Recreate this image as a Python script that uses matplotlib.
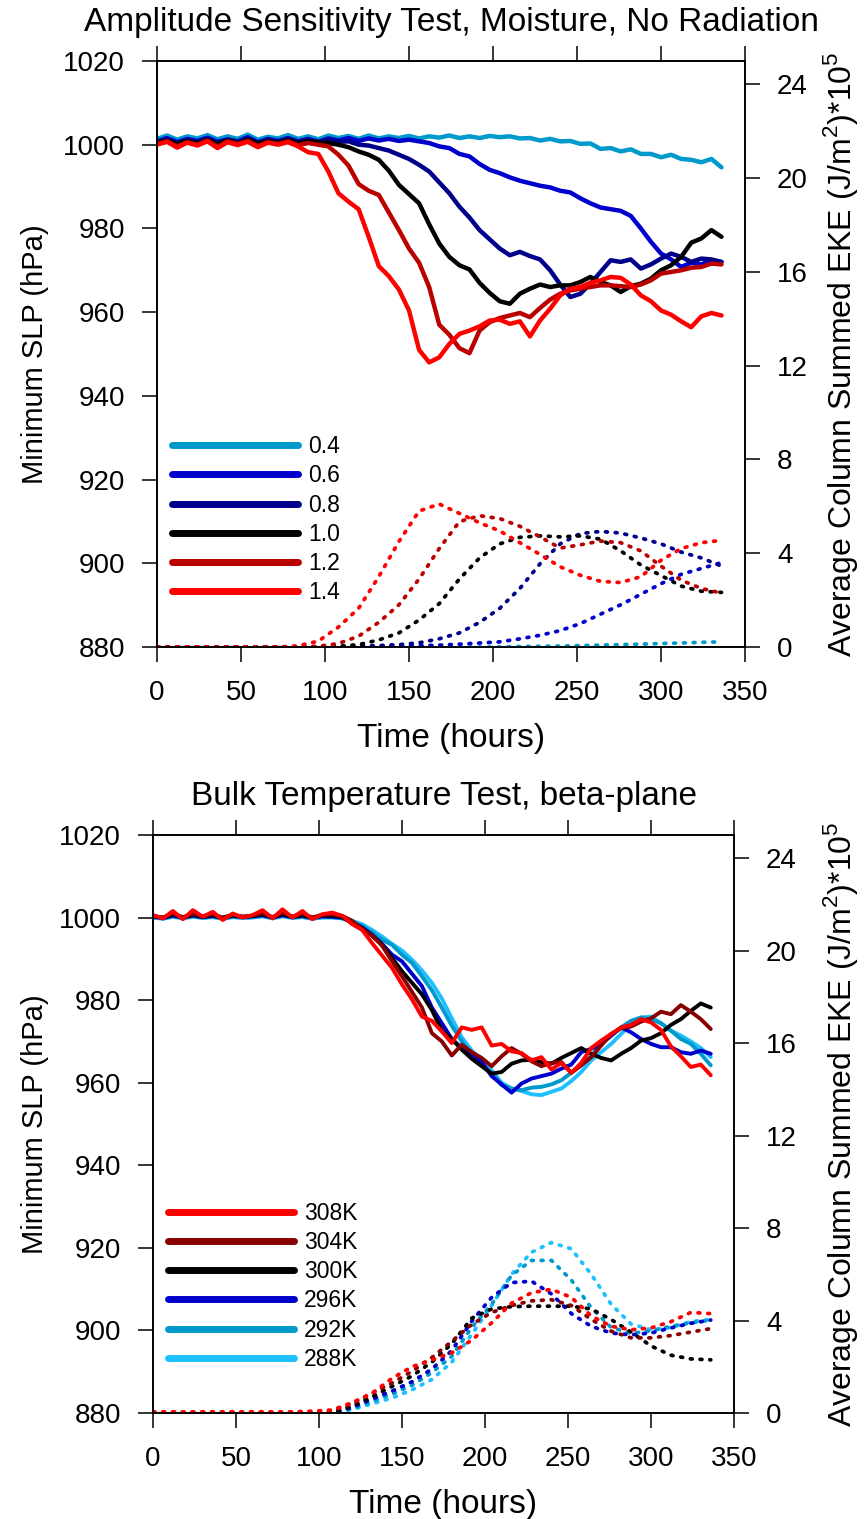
import numpy as np
import matplotlib
matplotlib.use("Agg")
import matplotlib.pyplot as plt
from matplotlib.lines import Line2D

plt.rcParams['font.family'] = ['Liberation Sans', 'DejaVu Sans']
plt.rcParams['mathtext.fontset'] = 'custom'
plt.rcParams['mathtext.rm'] = 'Liberation Sans'

# time axes: SLP every 6 h, EKE every 12 h
hours_slp = np.arange(0, 337, 6)
hours_eke = np.arange(0, 337, 12)

# ---- top panel: amplitude sensitivity ----
amp_labels = ['0.4', '0.6', '0.8', '1.0', '1.2', '1.4']
amp_colors = ['#0099cc', '#0000cc', '#00008b', '#000000', '#bb0000', '#ff0000']

slp_04 = [1001.4, 1002.2, 1001.2, 1002.0, 1001.5, 1002.3, 1001.3, 1002.0, 1001.4, 1002.4,
          1001.2, 1001.9, 1001.5, 1002.3, 1001.4, 1002.0, 1001.3, 1002.2, 1001.6, 1002.1,
          1001.4, 1002.2, 1001.5, 1002.0, 1001.6, 1002.1, 1001.5, 1002.0, 1001.7, 1002.2,
          1001.6, 1002.0, 1001.6, 1002.1, 1001.8, 1002.0, 1001.5, 1001.6, 1001.0, 1001.4,
          1000.8, 1000.9, 1000.2, 1000.3, 999.0, 999.2, 998.4, 998.9, 997.8, 997.8,
          997.0, 997.6, 996.6, 996.4, 995.8, 996.6, 994.6]
slp_06 = [1000.8, 1001.6, 1000.6, 1001.4, 1000.9, 1001.7, 1000.7, 1001.3, 1000.8, 1001.8,
          1000.6, 1001.4, 1000.9, 1001.6, 1000.8, 1001.4, 1000.7, 1001.5, 1001.0, 1001.6,
          1000.9, 1001.5, 1001.0, 1001.4, 1000.9, 1001.2, 1000.8,
          1000.4, 999.6, 999.2, 997.8, 997.2, 995.4, 994.0, 993.2, 992.2, 991.4,
          990.8, 990.2, 989.8, 989.0, 988.6, 987.2, 986.0, 985.0, 984.6, 984.2,
          983.0, 980.0, 976.8, 974.0, 972.6, 970.8, 971.8, 971.4, 972.4, 972.0]
slp_08 = [1000.6, 1001.2, 1000.4, 1001.0, 1000.5, 1001.3, 1000.3, 1001.1, 1000.6, 1001.4,
          1000.5, 1001.0, 1000.7, 1001.3, 1000.5, 1001.1, 1000.6, 1001.2, 1000.7, 1000.8,
          1000.0, 999.8, 999.2, 998.6, 997.6, 996.6, 995.2, 993.6, 991.0, 988.4,
          985.2, 982.6, 979.6, 977.4, 975.2, 973.6, 974.4, 973.4, 972.6, 970.0,
          966.6, 963.6, 964.4, 966.8, 969.6, 972.4, 972.0, 972.6, 970.4, 971.4,
          972.8, 974.0, 973.2, 972.0, 972.8, 972.6, 972.0]
slp_10 = [1000.5, 1001.0, 1000.2, 1000.9, 1000.4, 1001.2, 1000.2, 1001.0, 1000.4, 1001.2,
          1000.3, 1000.9, 1000.5, 1001.1, 1000.4, 1000.9, 1000.6,
          1000.4, 1000.0, 999.4, 998.4, 997.6, 996.4, 993.8, 990.4, 988.2, 986.0,
          981.0, 976.4, 973.2, 971.2, 970.2, 967.0, 964.6, 962.6, 962.0, 964.4,
          965.6, 966.6, 966.0, 966.4, 966.4, 967.2, 968.4, 967.2, 966.4, 964.8,
          966.2, 966.8, 968.0, 970.0, 971.2, 973.2, 976.6, 977.6, 979.6, 978.0]
slp_12 = [1000.2, 1000.8, 999.6, 1000.6, 1000.0, 1001.0, 999.5, 1000.8, 1000.2, 1000.9,
          999.7, 1000.6, 1000.2, 1000.8, 999.9, 1000.4,
          1000.0, 999.6, 997.6, 995.0, 990.6, 989.0, 988.0, 983.8, 979.6, 975.2,
          971.8, 966.0, 957.0, 954.6, 951.4, 950.2, 955.6, 957.6, 958.6, 959.2,
          959.8, 958.8, 961.0, 963.0, 964.4, 965.2, 965.6, 966.0, 966.4, 966.4,
          966.2, 966.0, 966.6, 967.6, 969.2, 969.6, 970.0, 970.6, 970.8, 971.6, 971.4]
slp_14 = [1000.0, 1000.7, 999.3, 1000.5, 999.8, 1000.8, 999.2, 1000.6, 999.9, 1000.7,
          999.4, 1000.5, 1000.0, 1000.6,
          999.6, 998.2, 997.8, 993.6, 988.4, 986.4, 984.6, 978.0, 971.0, 968.6,
          965.4, 960.4, 951.0, 948.0, 949.2, 952.4, 954.8, 955.6, 956.6, 958.0,
          958.2, 957.2, 957.8, 954.2, 958.0, 960.8, 964.0, 965.6, 966.0, 967.0,
          967.6, 968.4, 968.2, 966.6, 964.0, 962.6, 960.4, 959.4, 957.8, 956.4,
          959.0, 959.8, 959.2]

eke_04 = [0, 0, 0, 0, 0, 0, 0, 0, 0, 0, 0, 0, 0, 0, 0, 0, 0,
          0.0, 0.02, 0.03, 0.04, 0.06, 0.08, 0.1, 0.12, 0.15, 0.17, 0.2, 0.22]
eke_06 = [0, 0, 0, 0, 0, 0, 0, 0, 0, 0, 0, 0,
          0.03, 0.05, 0.08, 0.12, 0.17, 0.22, 0.35, 0.5, 0.7, 1.0, 1.4, 1.8,
          2.25, 2.7, 3.1, 3.35, 3.6]
eke_08 = [0, 0, 0, 0, 0, 0, 0, 0, 0, 0,
          0.03, 0.06, 0.1, 0.18, 0.35, 0.6, 1.05, 1.65, 2.5, 3.55, 4.4, 4.84,
          4.93, 4.86, 4.65, 4.4, 4.05, 3.8, 3.45]
eke_10 = [0, 0, 0, 0, 0, 0, 0, 0, 0,
          0.03, 0.1, 0.3, 0.6, 1.15, 1.85, 2.9, 3.8, 4.4, 4.68, 4.74, 4.7,
          4.74, 4.6, 4.1, 3.5, 3.05, 2.6, 2.38, 2.33]
eke_12 = [0, 0, 0, 0, 0, 0, 0, 0,
          0.03, 0.15, 0.46, 1.05, 1.8, 2.9, 4.2, 5.35, 5.6, 5.48, 5.15, 4.7,
          4.22, 4.36, 4.52, 4.45, 4.1, 3.45, 2.85, 2.5, 2.3]
eke_14 = [0, 0, 0, 0, 0, 0, 0,
          0.05, 0.25, 0.85, 1.65, 3.0, 4.5, 5.8, 6.1, 5.7, 5.3, 4.95, 4.45, 3.95,
          3.42, 3.06, 2.8, 2.75, 3.0, 3.7, 4.2, 4.45, 4.55]

# ---- bottom panel: bulk temperature ----
temp_labels = ['308K', '304K', '300K', '296K', '292K', '288K']
temp_colors = ['#ff0000', '#880000', '#000000', '#0000cc', '#0099cc', '#1ec0ff']

slp_308 = [1000.6, 999.8, 1001.6, 999.6, 1001.8, 1000.2, 1001.4, 999.4, 1001.0, 1000.0,
           1000.6, 1001.8, 999.8, 1002.0, 1000.0, 1001.6, 999.6, 1000.8, 1001.2,
           1000.4, 998.4, 997.0, 993.8, 990.8, 987.8, 983.8, 980.2, 976.0, 975.0,
           972.4, 969.6, 973.4, 972.8, 973.4, 969.0, 969.4, 967.6, 967.2, 965.4,
           966.2, 963.2, 964.8, 962.4, 964.8, 968.4, 970.2, 971.8, 973.4, 974.0,
           975.4, 974.6, 972.8, 968.8, 966.4, 963.8, 964.4, 961.8]
slp_304 = [1000.4, 1000.0, 1001.0, 1000.0, 1001.0, 1000.3, 1000.9, 999.9, 1000.7, 1000.2,
           1000.5, 1001.1, 1000.1, 1001.2, 1000.2, 1001.0, 1000.0, 1000.7, 1000.8,
           1000.4, 999.2, 997.2, 995.6, 993.2, 989.4, 985.8, 982.0, 978.2, 972.0,
           970.0, 966.6, 969.2, 967.4, 966.0, 964.0, 966.4, 968.4, 967.0, 965.2,
           964.0, 964.8, 965.0, 962.4, 964.2, 966.2, 969.0, 971.8, 973.2, 973.6,
           974.8, 975.6, 977.2, 976.6, 978.8, 977.2, 975.4, 973.0]
slp_300 = [1000.3, 1000.0, 1000.8, 1000.1, 1000.7, 1000.2, 1000.6, 1000.0, 1000.6, 1000.2,
           1000.4, 1000.8, 1000.1, 1000.8, 1000.2, 1000.6, 1000.0, 1000.5, 1000.4,
           1000.2, 998.6, 997.4, 995.6, 993.4, 990.2, 987.0, 984.2, 981.4, 977.6,
           972.6, 970.6, 968.0, 965.8, 964.0, 962.2, 962.6, 964.6, 965.4, 965.6,
           965.0, 964.6, 966.0, 967.2, 968.4, 967.0, 966.0, 965.4, 967.0, 968.4,
           970.2, 970.8, 972.0, 974.0, 975.4, 977.4, 979.2, 978.2]
slp_296 = [1000.2, 999.9, 1000.5, 1000.0, 1000.5, 1000.1, 1000.4, 999.9, 1000.4, 1000.1,
           1000.3, 1000.6, 1000.0, 1000.6, 1000.1, 1000.4, 999.9, 1000.3, 1000.2,
           1000.0, 998.8, 997.6, 995.8, 993.6, 991.0, 989.4, 986.4, 983.4, 978.2,
           974.4, 970.6, 968.4, 967.0, 965.0, 961.6, 959.6, 957.6, 959.8, 961.0,
           961.6, 962.2, 963.4, 964.4, 967.4, 968.2, 969.4, 971.4, 973.4, 972.2,
           970.6, 969.4, 968.6, 968.6, 967.4, 967.0, 967.8, 967.0]
slp_292 = [1000.1, 999.8, 1000.3, 999.9, 1000.3, 1000.0, 1000.2, 999.8, 1000.2, 1000.0,
           1000.1, 1000.4, 999.9, 1000.4, 1000.0, 1000.2, 999.8, 1000.1, 1000.1,
           999.8, 999.0, 998.0, 996.4, 994.6, 993.4, 991.0, 989.0, 985.8, 982.4,
           978.2, 973.8, 970.0, 967.0, 964.4, 962.4, 959.4, 958.6, 958.2, 958.8,
           959.0, 959.6, 960.6, 962.4, 964.4, 966.4, 969.4, 971.4, 973.4, 975.0,
           975.8, 975.4, 974.4, 972.6, 970.6, 969.4, 967.0, 964.2]
slp_288 = [1000.0, 999.7, 1000.2, 999.8, 1000.2, 999.9, 1000.1, 999.7, 1000.1, 999.9,
           1000.0, 1000.3, 999.8, 1000.3, 999.9, 1000.1, 999.7, 1000.0, 1000.0,
           999.8, 999.2, 998.4, 997.0, 995.4, 993.6, 992.0, 989.8, 987.2, 984.2,
           980.4, 975.6, 971.0, 967.8, 965.2, 963.0, 960.0, 958.6, 958.0, 957.2,
           957.0, 957.8, 958.6, 960.4, 962.6, 965.4, 967.4, 969.4, 971.8, 974.2,
           975.8, 976.0, 974.4, 972.6, 971.4, 970.0, 968.4, 966.2]

eke_308 = [0.05, 0.05, 0.05, 0.05, 0.05, 0.05, 0.05, 0.05,
           0.08, 0.13, 0.45, 0.86, 1.5, 2.0, 2.3, 2.6, 3.15, 3.9, 4.75, 5.2,
           5.35, 5.0, 4.2, 3.75, 3.6, 3.68, 3.95, 4.35, 4.3]
eke_304 = [0, 0, 0, 0, 0, 0, 0, 0, 0,
           0.1, 0.4, 0.85, 1.3, 1.8, 2.4, 3.1, 3.83, 4.35, 4.65, 4.85, 4.9,
           4.65, 4.05, 3.54, 3.25, 3.25, 3.35, 3.5, 3.65]
eke_300 = [0, 0, 0, 0, 0, 0, 0, 0, 0, 0,
           0.3, 0.7, 1.15, 1.6, 2.2, 3.0, 4.1, 4.5, 4.6, 4.62, 4.62, 4.62,
           4.5, 4.04, 3.5, 2.9, 2.5, 2.34, 2.3]
eke_296 = [0, 0, 0, 0, 0, 0, 0, 0, 0, 0,
           0.25, 0.6, 0.95, 1.35, 1.9, 2.7, 3.97, 5.0, 5.64, 5.7, 5.15, 4.3,
           3.75, 3.46, 3.38, 3.46, 3.68, 3.88, 4.02]
eke_292 = [0, 0, 0, 0, 0, 0, 0, 0, 0, 0,
           0.2, 0.5, 0.82, 1.2, 1.75, 2.45, 3.7, 4.7, 5.95, 6.6, 6.6, 5.75,
           4.55, 3.7, 3.45, 3.55, 3.75, 3.9, 4.02]
eke_288 = [0, 0, 0, 0, 0, 0, 0, 0, 0, 0,
           0.15, 0.4, 0.65, 1.0, 1.45, 2.2, 3.4, 4.65, 6.0, 6.95, 7.37, 7.1,
           6.0, 4.7, 3.85, 3.6, 3.7, 3.95, 4.05]

W, H = 865, 1519
fig = plt.figure(figsize=(W / 100, H / 100), dpi=100)


def panel(px_left, px_right, px_top, px_bottom, title, title_y, slp_list, eke_list,
          labels, colors, lw, order):
    ax = fig.add_axes([px_left / W, 1 - px_bottom / H,
                       (px_right - px_left) / W, (px_bottom - px_top) / H])
    ax2 = ax.twinx()
    for i in order:
        ax.plot(hours_slp, slp_list[i], color=colors[i], lw=lw,
                solid_joinstyle='round', solid_capstyle='round')
    for i in order:
        ax2.plot(hours_eke, eke_list[i], color=colors[i], lw=2.7,
                 linestyle=(0, (0.5, 2.1)), dash_capstyle='round')
    ax.set_xlim(0, 350)
    ax.set_ylim(880, 1020)
    ax2.set_ylim(0, 25)
    ax.set_xticks(np.arange(0, 351, 50))
    ax.set_yticks(np.arange(880, 1021, 20))
    ax2.set_yticks(np.arange(0, 25, 4))
    ax.tick_params(axis='both', direction='out', length=11, width=1.1,
                   labelsize=20, top=True, right=False)
    ax.tick_params(axis='x', pad=13)
    ax.tick_params(axis='y', pad=12)
    ax2.tick_params(axis='y', direction='out', length=11, width=1.1,
                    labelsize=20, pad=12)
    for a in (ax, ax2):
        for s in a.spines.values():
            s.set_linewidth(1.2)
    ax.set_xlabel('Time (hours)', fontsize=24, labelpad=12)
    ax.set_ylabel('Minimum SLP (hPa)', fontsize=21)
    ax2.set_ylabel('Average Column Summed EKE (J/m$^2$)*10$^5$', fontsize=23)
    wa = px_right - px_left
    ax.yaxis.set_label_coords((49 - px_left) / wa, 0.5)
    ax2.yaxis.set_label_coords((821 - px_left) / wa, 0.5)
    fig.text((px_left + px_right) / 2 / W, 1 - title_y / H, title,
             ha='center', va='center', fontsize=24)
    handles = [Line2D([], [], color=c, lw=5, solid_capstyle='round') for c in colors]
    ax.legend(handles, labels, loc='lower left', bbox_to_anchor=(0.025, 0.073),
              frameon=False, borderpad=0, borderaxespad=0, handlelength=5.5,
              handletextpad=0.45, labelspacing=0.27,
              prop={'family': ['Liberation Sans', 'DejaVu Sans'], 'size': 16.5})
    return ax


panel(157, 745, 61, 647, 'Amplitude Sensitivity Test, Moisture, No Radiation', 22,
      [slp_04, slp_06, slp_08, slp_10, slp_12, slp_14],
      [eke_04, eke_06, eke_08, eke_10, eke_12, eke_14],
      amp_labels, amp_colors, 3.2, [0, 1, 2, 3, 4, 5])

panel(153, 734, 835, 1413, 'Bulk Temperature Test, beta-plane', 797,
      [slp_308, slp_304, slp_300, slp_296, slp_292, slp_288],
      [eke_308, eke_304, eke_300, eke_296, eke_292, eke_288],
      temp_labels, temp_colors, 2.8, [5, 4, 3, 2, 1, 0])

fig.savefig('out.png', dpi=100)
